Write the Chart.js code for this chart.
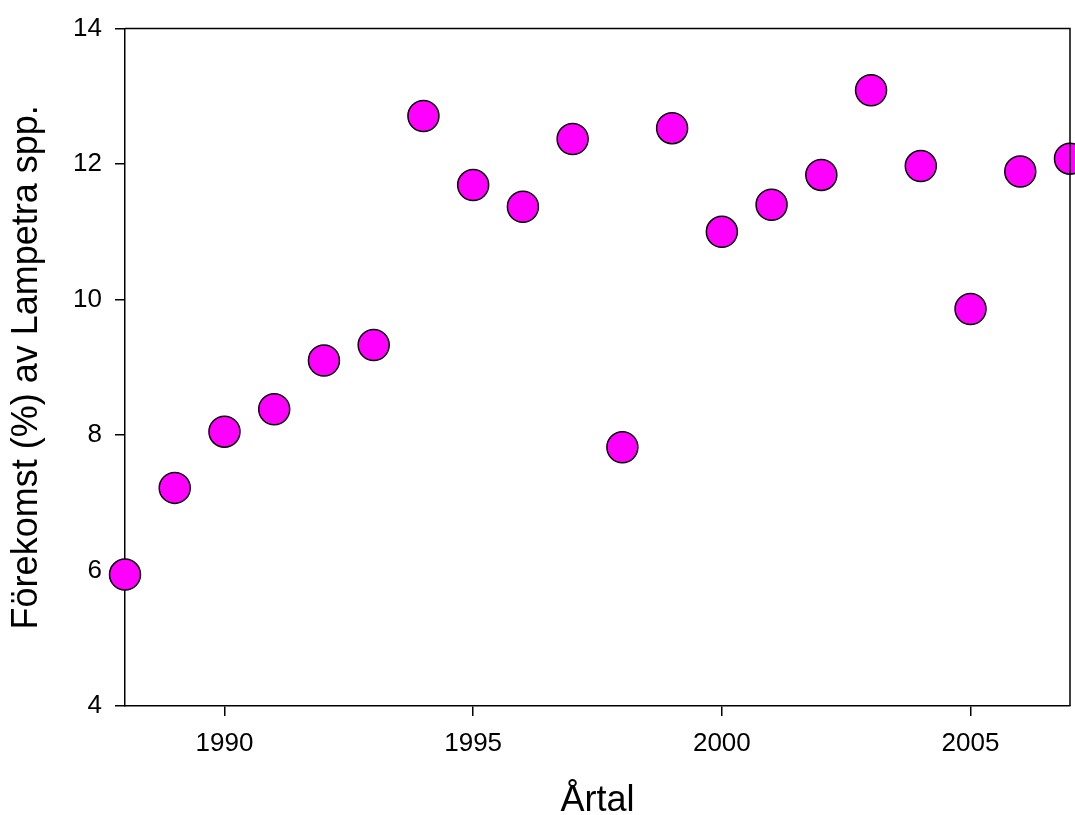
<!DOCTYPE html>
<html>
<head>
<meta charset="utf-8">
<script src="https://cdn.jsdelivr.net/npm/chart.js@4/dist/chart.umd.min.js"></script>
<style>
  html, body { margin: 0; padding: 0; background: #fff; overflow: hidden; }
  #wrap { width: 1075px; height: 815px; position: relative; }
  canvas { display: block; }
</style>
</head>
<body>
<div id="wrap"><canvas id="lampetraChart"></canvas></div>
<script>
let years = [1988, 1989, 1990, 1991, 1992, 1993, 1994, 1995, 1996, 1997,
             1998, 1999, 2000, 2001, 2002, 2003, 2004, 2005, 2006, 2007];
let forekomst = [5.94, 7.22, 8.05, 8.38, 9.10, 9.33, 12.71, 11.69, 11.37, 12.37,
                 7.82, 12.53, 11.00, 11.40, 11.84, 13.09, 11.97, 9.86, 11.89, 12.08];
let xTicks = [1990, 1995, 2000, 2005];
let yTicks = [4, 6, 8, 10, 12, 14];
let xTitle = 'Årtal';
let yTitle = 'Förekomst (%) av Lampetra spp.';

let fontFamily = '"Liberation Sans", Arial, sans-serif';


function buildPoints() {
    let points = [];
    for (let i = 0; i < years.length; i++) {
        points.push({ x: years[i], y: forekomst[i] });
    }
    return points;
}


// closes the box on the top and right side of the plot
const frameBox = {
    id: 'frameBox',
    afterDraw(chart) {
        let a = chart.chartArea;
        let ctx = chart.ctx;
        ctx.save();
        ctx.strokeStyle = '#000';
        ctx.lineWidth = 1.5;
        ctx.beginPath();
        ctx.moveTo(a.left, a.top);
        ctx.lineTo(a.right, a.top);
        ctx.lineTo(a.right, a.bottom);
        ctx.stroke();
        ctx.restore();
    }
};


new Chart('lampetraChart', {
    type: 'scatter',
    data: {
        datasets: [{
            data: buildPoints(),
            backgroundColor: '#FF00FF',
            borderColor: '#000',
            borderWidth: 1.5,
            pointRadius: 15.5,
            pointHoverRadius: 15.5,
            clip: false
        }]
    },
    options: {
        responsive: true,
        maintainAspectRatio: false,
        animation: false,
        layout: { autoPadding: false, padding: { top: 25, right: 5, left: 0, bottom: 0 } },
        plugins: {
            legend: { display: false },
            tooltip: { enabled: false }
        },
        scales: {
            x: {
                type: 'linear',
                min: 1988,
                max: 2007,
                afterBuildTicks: (scale) => { scale.ticks = xTicks.map(v => ({ value: v })); },
                afterFit: (scale) => { scale.height = 109; },
                border: { display: true, color: '#000', width: 1.5 },
                grid: { drawOnChartArea: false, drawTicks: true, tickLength: 10, color: '#000', lineWidth: 1.5 },
                ticks: {
                    color: '#000',
                    padding: 12,
                    maxRotation: 0,
                    font: { family: fontFamily, size: 26 },
                    callback: (v) => String(v)
                },
                title: {
                    display: true,
                    text: xTitle,
                    color: '#000',
                    font: { family: fontFamily, size: 36, lineHeight: 0.8 },
                    padding: { top: 0, bottom: 0 }
                }
            },
            y: {
                type: 'linear',
                min: 4,
                max: 14,
                afterBuildTicks: (scale) => { scale.ticks = yTicks.map(v => ({ value: v })); },
                afterFit: (scale) => { scale.width = 125; },
                border: { display: true, color: '#000', width: 1.5 },
                grid: { drawOnChartArea: false, drawTicks: true, tickLength: 10, color: '#000', lineWidth: 1.5 },
                ticks: {
                    color: '#000',
                    padding: 13,
                    font: { family: fontFamily, size: 26 }
                },
                title: {
                    display: true,
                    text: yTitle,
                    color: '#000',
                    font: { family: fontFamily, size: 36, lineHeight: 0.8 },
                    padding: { top: 13, bottom: 0 }
                }
            }
        }
    },
    plugins: [frameBox]
});
</script>
</body>
</html>
